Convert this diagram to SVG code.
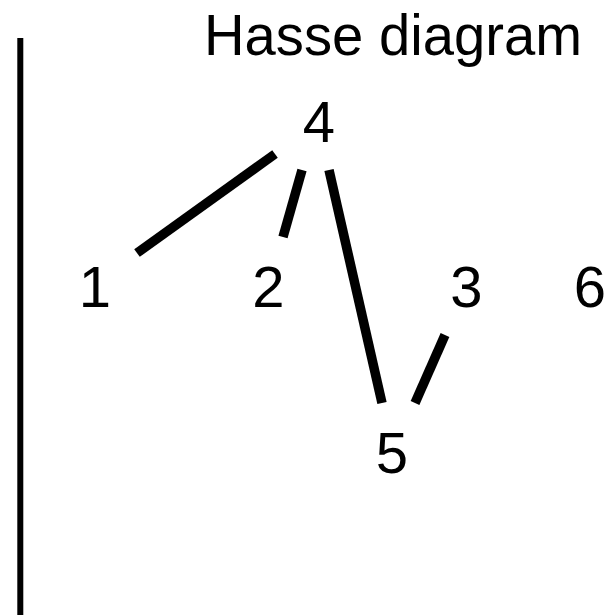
<svg xmlns="http://www.w3.org/2000/svg" width="611" height="615" viewBox="0 0 611 615">
<style>
.t{font-family:"Liberation Sans","DejaVu Sans",sans-serif;font-size:58px;fill:#000;text-anchor:middle}
.e{stroke:#000;stroke-width:9.5;stroke-linecap:butt;fill:none}
</style>
<rect width="611" height="615" fill="#fff"/>
<line x1="20.3" y1="38" x2="20.3" y2="615" stroke="#000" stroke-width="6"/>
<text class="t" x="393" y="55" textLength="378" lengthAdjust="spacingAndGlyphs">Hasse diagram</text>
<g id="connectors">
<line class="e" x1="137" y1="253" x2="275" y2="154"/>
<line class="e" x1="283" y1="237" x2="302" y2="170"/>
<line class="e" x1="329" y1="170" x2="382" y2="403"/>
<line class="e" x1="445" y1="335" x2="415" y2="403"/>
</g>
<g id="n4"><text class="t" x="319" y="142">4</text></g>
<g id="n1"><text class="t" x="95" y="307">1</text></g>
<g id="n2"><text class="t" x="268.5" y="307">2</text></g>
<g id="n3"><text class="t" x="466.5" y="307">3</text></g>
<g id="n6"><text class="t" x="590" y="307">6</text></g>
<g id="n5"><text class="t" x="392" y="473">5</text></g>
</svg>
